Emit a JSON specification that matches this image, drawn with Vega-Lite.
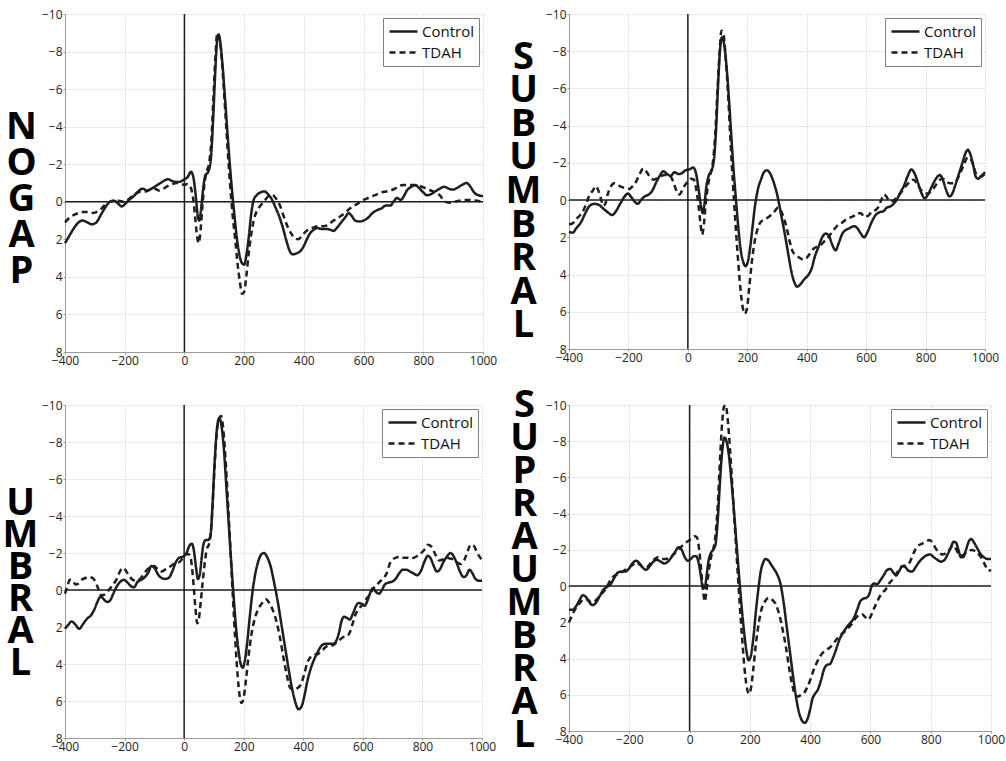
{
"$schema": "https://vega.github.io/schema/vega-lite/v6.json",
"background": "white",
"padding": {"left": 2, "top": 8, "right": 0, "bottom": 0},
"columns": 2,
"spacing": {"row": 20, "column": 8},
"resolve": {"legend": {"strokeDash": "independent"}},
"config": {
  "view": {"stroke": null},
  "font": "Open Sans",
  "axis": {"domainColor": "#9a9a9a", "domainWidth": 1, "grid": true, "gridColor": "#c4c4c4", "gridDash": [1, 2], "gridWidth": 1, "ticks": true, "tickSize": 2, "tickColor": "#9a9a9a", "labelFont": "Open Sans", "labelFontSize": 12, "labelColor": "#222", "labelPadding": 1, "labelFlush": false, "labelOverlap": false, "labelSeparation": 0, "titleFont": "Liberation Sans Narrow, Open Sans", "titleFontSize": 38, "titleFontWeight": "bold", "titleColor": "#000", "titleAngle": 0, "titleAlign": "center", "titleBaseline": "middle"},
  "legend": {"orient": "top-right", "offset": 4, "padding": 5, "strokeColor": "#808080", "fillColor": "white", "symbolType": "M-1,0L3,0", "symbolSize": 196, "symbolStrokeWidth": 2.4, "symbolStrokeColor": "#1e1e1e", "labelFont": "Open Sans", "labelFontSize": 15, "labelColor": "#111", "rowPadding": 4, "labelOffset": 17, "title": null},
  "line": {"strokeWidth": 2.5, "color": "#1e1e1e", "interpolate": "monotone"},
  "rule": {"color": "#1e1e1e", "strokeWidth": 1.5}
},
"datasets": {
"p1c": [{"t":-400,"v":2.2},{"t":-385,"v":1.8},{"t":-370,"v":1.4},{"t":-355,"v":1.1},{"t":-340,"v":1.0},{"t":-325,"v":1.1},{"t":-310,"v":1.2},{"t":-295,"v":1.1},{"t":-280,"v":0.7},{"t":-265,"v":0.3},{"t":-250,"v":0.0},{"t":-235,"v":-0.05},{"t":-222,"v":0.1},{"t":-210,"v":0.25},{"t":-198,"v":0.1},{"t":-185,"v":-0.1},{"t":-170,"v":-0.3},{"t":-155,"v":-0.55},{"t":-140,"v":-0.7},{"t":-125,"v":-0.6},{"t":-110,"v":-0.7},{"t":-95,"v":-0.85},{"t":-80,"v":-1.0},{"t":-65,"v":-1.15},{"t":-55,"v":-1.2},{"t":-40,"v":-1.1},{"t":-25,"v":-1.05},{"t":-10,"v":-1.1},{"t":0,"v":-1.2},{"t":10,"v":-1.3},{"t":22,"v":-1.6},{"t":30,"v":-1.3},{"t":38,"v":-0.3},{"t":45,"v":0.8},{"t":50,"v":1.0},{"t":55,"v":0.5},{"t":62,"v":-0.6},{"t":70,"v":-1.4},{"t":80,"v":-1.6},{"t":88,"v":-2.2},{"t":95,"v":-4.0},{"t":102,"v":-6.5},{"t":108,"v":-8.3},{"t":113,"v":-8.9},{"t":120,"v":-8.5},{"t":128,"v":-7.2},{"t":136,"v":-5.5},{"t":144,"v":-3.7},{"t":152,"v":-2.0},{"t":160,"v":-0.5},{"t":168,"v":0.8},{"t":176,"v":2.0},{"t":184,"v":2.8},{"t":192,"v":3.25},{"t":200,"v":3.35},{"t":208,"v":2.8},{"t":216,"v":1.8},{"t":224,"v":0.6},{"t":232,"v":-0.1},{"t":242,"v":-0.35},{"t":255,"v":-0.5},{"t":268,"v":-0.55},{"t":280,"v":-0.4},{"t":292,"v":-0.15},{"t":305,"v":0.3},{"t":318,"v":0.8},{"t":330,"v":1.4},{"t":342,"v":2.1},{"t":352,"v":2.6},{"t":362,"v":2.8},{"t":375,"v":2.75},{"t":390,"v":2.6},{"t":400,"v":2.35},{"t":410,"v":2.0},{"t":420,"v":1.7},{"t":432,"v":1.5},{"t":445,"v":1.4},{"t":460,"v":1.45},{"t":475,"v":1.45},{"t":490,"v":1.5},{"t":500,"v":1.55},{"t":510,"v":1.4},{"t":525,"v":1.1},{"t":540,"v":0.8},{"t":550,"v":0.6},{"t":560,"v":0.75},{"t":572,"v":1.0},{"t":588,"v":1.05},{"t":600,"v":1.0},{"t":615,"v":0.85},{"t":630,"v":0.6},{"t":645,"v":0.45},{"t":660,"v":0.35},{"t":675,"v":0.2},{"t":690,"v":0.2},{"t":700,"v":0.0},{"t":712,"v":-0.2},{"t":725,"v":-0.1},{"t":735,"v":-0.3},{"t":745,"v":-0.6},{"t":760,"v":-0.8},{"t":772,"v":-0.9},{"t":785,"v":-0.75},{"t":800,"v":-0.5},{"t":812,"v":-0.35},{"t":825,"v":-0.4},{"t":840,"v":-0.55},{"t":855,"v":-0.7},{"t":870,"v":-0.8},{"t":885,"v":-0.7},{"t":900,"v":-0.65},{"t":915,"v":-0.75},{"t":930,"v":-0.9},{"t":945,"v":-1.0},{"t":958,"v":-0.8},{"t":970,"v":-0.5},{"t":985,"v":-0.35},{"t":1000,"v":-0.3}],
"p1d": [{"t":-400,"v":1.1},{"t":-385,"v":0.85},{"t":-370,"v":0.7},{"t":-355,"v":0.6},{"t":-340,"v":0.55},{"t":-325,"v":0.55},{"t":-310,"v":0.6},{"t":-295,"v":0.55},{"t":-280,"v":0.4},{"t":-265,"v":0.15},{"t":-250,"v":0.0},{"t":-235,"v":-0.05},{"t":-220,"v":-0.05},{"t":-205,"v":0.0},{"t":-190,"v":-0.1},{"t":-175,"v":-0.3},{"t":-160,"v":-0.45},{"t":-145,"v":-0.55},{"t":-130,"v":-0.55},{"t":-115,"v":-0.65},{"t":-100,"v":-0.7},{"t":-85,"v":-0.6},{"t":-70,"v":-0.7},{"t":-55,"v":-0.85},{"t":-40,"v":-0.95},{"t":-25,"v":-1.0},{"t":-10,"v":-0.95},{"t":0,"v":-0.9},{"t":10,"v":-0.95},{"t":20,"v":-0.8},{"t":28,"v":-0.3},{"t":36,"v":0.8},{"t":42,"v":1.8},{"t":48,"v":2.2},{"t":54,"v":1.5},{"t":60,"v":0.3},{"t":66,"v":-0.8},{"t":74,"v":-1.6},{"t":82,"v":-2.0},{"t":90,"v":-3.2},{"t":97,"v":-5.5},{"t":104,"v":-7.8},{"t":110,"v":-9.0},{"t":117,"v":-8.8},{"t":124,"v":-7.8},{"t":132,"v":-6.0},{"t":140,"v":-4.0},{"t":148,"v":-2.0},{"t":155,"v":-0.5},{"t":162,"v":0.8},{"t":170,"v":2.0},{"t":178,"v":3.3},{"t":186,"v":4.3},{"t":193,"v":4.9},{"t":200,"v":4.8},{"t":207,"v":4.0},{"t":215,"v":2.8},{"t":223,"v":1.8},{"t":232,"v":1.0},{"t":242,"v":0.5},{"t":255,"v":0.2},{"t":268,"v":-0.05},{"t":282,"v":-0.3},{"t":295,"v":-0.35},{"t":308,"v":-0.15},{"t":320,"v":0.2},{"t":333,"v":0.8},{"t":345,"v":1.3},{"t":358,"v":1.7},{"t":370,"v":1.95},{"t":380,"v":2.0},{"t":392,"v":1.85},{"t":405,"v":1.6},{"t":420,"v":1.45},{"t":435,"v":1.35},{"t":450,"v":1.3},{"t":465,"v":1.3},{"t":480,"v":1.25},{"t":495,"v":1.05},{"t":510,"v":0.9},{"t":525,"v":0.75},{"t":540,"v":0.55},{"t":555,"v":0.35},{"t":570,"v":0.2},{"t":585,"v":0.05},{"t":600,"v":-0.1},{"t":615,"v":-0.2},{"t":630,"v":-0.3},{"t":645,"v":-0.4},{"t":660,"v":-0.5},{"t":675,"v":-0.55},{"t":690,"v":-0.6},{"t":705,"v":-0.7},{"t":720,"v":-0.85},{"t":735,"v":-0.9},{"t":750,"v":-0.9},{"t":765,"v":-0.9},{"t":780,"v":-0.85},{"t":795,"v":-0.8},{"t":810,"v":-0.7},{"t":825,"v":-0.6},{"t":840,"v":-0.5},{"t":855,"v":-0.35},{"t":865,"v":-0.15},{"t":875,"v":0.0},{"t":890,"v":0.05},{"t":905,"v":0.0},{"t":920,"v":-0.05},{"t":935,"v":-0.1},{"t":950,"v":-0.1},{"t":965,"v":-0.1},{"t":980,"v":-0.05},{"t":1000,"v":0.0}],
"p2c": [{"t":-400,"v":1.7},{"t":-388,"v":1.75},{"t":-375,"v":1.5},{"t":-360,"v":1.2},{"t":-345,"v":0.7},{"t":-330,"v":0.3},{"t":-315,"v":0.2},{"t":-300,"v":0.25},{"t":-285,"v":0.45},{"t":-270,"v":0.65},{"t":-255,"v":0.8},{"t":-242,"v":0.6},{"t":-228,"v":0.2},{"t":-215,"v":-0.15},{"t":-202,"v":-0.35},{"t":-190,"v":-0.15},{"t":-178,"v":0.1},{"t":-168,"v":0.2},{"t":-158,"v":0.0},{"t":-145,"v":-0.2},{"t":-132,"v":-0.3},{"t":-120,"v":-0.5},{"t":-108,"v":-0.9},{"t":-95,"v":-1.3},{"t":-82,"v":-1.55},{"t":-70,"v":-1.4},{"t":-58,"v":-1.3},{"t":-45,"v":-1.5},{"t":-32,"v":-1.4},{"t":-20,"v":-1.45},{"t":-8,"v":-1.6},{"t":5,"v":-1.65},{"t":18,"v":-1.75},{"t":28,"v":-1.4},{"t":36,"v":-0.6},{"t":44,"v":0.3},{"t":50,"v":0.7},{"t":56,"v":0.2},{"t":62,"v":-0.7},{"t":70,"v":-1.3},{"t":80,"v":-1.6},{"t":88,"v":-2.2},{"t":95,"v":-3.8},{"t":102,"v":-6.3},{"t":108,"v":-8.0},{"t":115,"v":-8.75},{"t":122,"v":-8.4},{"t":130,"v":-7.2},{"t":138,"v":-5.5},{"t":146,"v":-3.5},{"t":154,"v":-1.6},{"t":162,"v":0.0},{"t":170,"v":1.5},{"t":178,"v":2.7},{"t":186,"v":3.3},{"t":194,"v":3.55},{"t":202,"v":3.3},{"t":210,"v":2.5},{"t":218,"v":1.4},{"t":226,"v":0.3},{"t":236,"v":-0.6},{"t":246,"v":-1.1},{"t":256,"v":-1.5},{"t":266,"v":-1.6},{"t":278,"v":-1.4},{"t":290,"v":-0.9},{"t":302,"v":-0.2},{"t":314,"v":0.8},{"t":326,"v":1.8},{"t":338,"v":2.9},{"t":348,"v":3.8},{"t":358,"v":4.4},{"t":368,"v":4.65},{"t":380,"v":4.5},{"t":392,"v":4.25},{"t":404,"v":4.05},{"t":416,"v":3.7},{"t":428,"v":3.0},{"t":440,"v":2.5},{"t":452,"v":2.0},{"t":464,"v":1.8},{"t":474,"v":1.9},{"t":486,"v":2.4},{"t":497,"v":2.7},{"t":508,"v":2.3},{"t":520,"v":1.8},{"t":532,"v":1.6},{"t":545,"v":1.5},{"t":558,"v":1.4},{"t":570,"v":1.5},{"t":582,"v":1.8},{"t":593,"v":2.0},{"t":605,"v":1.7},{"t":618,"v":1.2},{"t":632,"v":0.8},{"t":645,"v":0.65},{"t":658,"v":0.6},{"t":670,"v":0.4},{"t":680,"v":0.35},{"t":692,"v":0.2},{"t":702,"v":0.0},{"t":715,"v":-0.4},{"t":728,"v":-0.8},{"t":740,"v":-1.3},{"t":752,"v":-1.65},{"t":764,"v":-1.4},{"t":775,"v":-0.9},{"t":787,"v":-0.35},{"t":797,"v":-0.1},{"t":808,"v":-0.3},{"t":820,"v":-0.7},{"t":835,"v":-1.15},{"t":848,"v":-1.35},{"t":858,"v":-1.1},{"t":868,"v":-0.6},{"t":880,"v":-0.2},{"t":890,"v":-0.35},{"t":900,"v":-0.8},{"t":912,"v":-1.4},{"t":924,"v":-2.0},{"t":935,"v":-2.55},{"t":942,"v":-2.7},{"t":950,"v":-2.5},{"t":960,"v":-1.9},{"t":968,"v":-1.3},{"t":976,"v":-1.15},{"t":988,"v":-1.3},{"t":1000,"v":-1.5}],
"p2d": [{"t":-400,"v":1.3},{"t":-388,"v":1.25},{"t":-375,"v":1.0},{"t":-362,"v":0.8},{"t":-350,"v":0.5},{"t":-340,"v":0.1},{"t":-330,"v":-0.3},{"t":-320,"v":-0.5},{"t":-310,"v":-0.75},{"t":-302,"v":-0.55},{"t":-293,"v":-0.1},{"t":-285,"v":0.3},{"t":-278,"v":0.2},{"t":-270,"v":-0.3},{"t":-260,"v":-0.7},{"t":-248,"v":-0.9},{"t":-235,"v":-0.8},{"t":-222,"v":-0.7},{"t":-210,"v":-0.65},{"t":-198,"v":-0.6},{"t":-186,"v":-0.75},{"t":-174,"v":-1.0},{"t":-162,"v":-1.4},{"t":-150,"v":-1.7},{"t":-138,"v":-1.5},{"t":-126,"v":-1.2},{"t":-114,"v":-1.1},{"t":-102,"v":-1.2},{"t":-90,"v":-1.3},{"t":-78,"v":-1.35},{"t":-66,"v":-1.35},{"t":-55,"v":-1.2},{"t":-45,"v":-0.8},{"t":-36,"v":-0.4},{"t":-28,"v":-0.3},{"t":-20,"v":-0.5},{"t":-10,"v":-0.8},{"t":0,"v":-1.0},{"t":10,"v":-1.15},{"t":20,"v":-1.1},{"t":28,"v":-0.6},{"t":36,"v":0.3},{"t":42,"v":1.2},{"t":48,"v":1.85},{"t":54,"v":1.3},{"t":60,"v":0.2},{"t":68,"v":-0.8},{"t":76,"v":-1.4},{"t":84,"v":-2.0},{"t":92,"v":-3.5},{"t":100,"v":-6.0},{"t":107,"v":-8.0},{"t":113,"v":-9.1},{"t":120,"v":-8.9},{"t":128,"v":-7.5},{"t":136,"v":-5.5},{"t":144,"v":-3.0},{"t":152,"v":-0.8},{"t":160,"v":1.2},{"t":168,"v":3.0},{"t":176,"v":4.6},{"t":184,"v":5.7},{"t":191,"v":6.1},{"t":198,"v":5.9},{"t":206,"v":4.8},{"t":214,"v":3.5},{"t":222,"v":2.5},{"t":232,"v":1.7},{"t":244,"v":1.2},{"t":256,"v":1.05},{"t":268,"v":0.95},{"t":280,"v":0.8},{"t":292,"v":0.6},{"t":304,"v":0.4},{"t":314,"v":0.6},{"t":324,"v":1.0},{"t":334,"v":1.6},{"t":344,"v":2.3},{"t":354,"v":2.8},{"t":364,"v":2.95},{"t":376,"v":3.1},{"t":388,"v":3.2},{"t":400,"v":3.1},{"t":412,"v":2.85},{"t":424,"v":2.6},{"t":436,"v":2.5},{"t":448,"v":2.4},{"t":460,"v":2.2},{"t":472,"v":2.0},{"t":484,"v":1.75},{"t":496,"v":1.5},{"t":508,"v":1.3},{"t":520,"v":1.2},{"t":532,"v":1.05},{"t":545,"v":0.95},{"t":558,"v":0.85},{"t":570,"v":0.7},{"t":582,"v":0.7},{"t":594,"v":0.9},{"t":606,"v":0.85},{"t":618,"v":0.65},{"t":630,"v":0.55},{"t":642,"v":0.35},{"t":652,"v":-0.05},{"t":660,"v":-0.3},{"t":668,"v":-0.2},{"t":678,"v":0.05},{"t":690,"v":0.05},{"t":700,"v":-0.1},{"t":712,"v":-0.3},{"t":724,"v":-0.55},{"t":736,"v":-0.8},{"t":748,"v":-1.0},{"t":760,"v":-1.1},{"t":772,"v":-0.85},{"t":784,"v":-0.55},{"t":796,"v":-0.4},{"t":808,"v":-0.35},{"t":820,"v":-0.5},{"t":832,"v":-0.75},{"t":845,"v":-1.05},{"t":858,"v":-1.15},{"t":870,"v":-1.0},{"t":882,"v":-0.9},{"t":894,"v":-0.9},{"t":906,"v":-1.1},{"t":918,"v":-1.5},{"t":930,"v":-1.95},{"t":942,"v":-2.3},{"t":952,"v":-2.2},{"t":962,"v":-1.8},{"t":972,"v":-1.35},{"t":984,"v":-1.25},{"t":1000,"v":-1.4}],
"p3c": [{"t":-400,"v":2.1},{"t":-390,"v":1.9},{"t":-378,"v":1.7},{"t":-366,"v":1.85},{"t":-352,"v":2.1},{"t":-340,"v":1.85},{"t":-326,"v":1.55},{"t":-312,"v":1.35},{"t":-300,"v":1.0},{"t":-290,"v":0.6},{"t":-280,"v":0.35},{"t":-270,"v":0.5},{"t":-258,"v":0.65},{"t":-248,"v":0.55},{"t":-238,"v":0.2},{"t":-226,"v":-0.2},{"t":-214,"v":-0.45},{"t":-202,"v":-0.55},{"t":-190,"v":-0.4},{"t":-178,"v":-0.2},{"t":-168,"v":-0.15},{"t":-156,"v":-0.45},{"t":-144,"v":-0.55},{"t":-132,"v":-0.7},{"t":-120,"v":-0.95},{"t":-110,"v":-1.3},{"t":-100,"v":-1.2},{"t":-88,"v":-0.85},{"t":-76,"v":-0.65},{"t":-64,"v":-0.6},{"t":-52,"v":-0.65},{"t":-40,"v":-1.0},{"t":-28,"v":-1.5},{"t":-16,"v":-1.75},{"t":-4,"v":-1.8},{"t":8,"v":-2.0},{"t":18,"v":-2.4},{"t":26,"v":-2.5},{"t":34,"v":-2.0},{"t":40,"v":-1.2},{"t":46,"v":-0.6},{"t":52,"v":-0.8},{"t":58,"v":-1.6},{"t":64,"v":-2.4},{"t":72,"v":-2.7},{"t":80,"v":-2.7},{"t":88,"v":-2.9},{"t":95,"v":-4.5},{"t":102,"v":-6.8},{"t":110,"v":-8.7},{"t":118,"v":-9.3},{"t":126,"v":-8.8},{"t":134,"v":-7.5},{"t":142,"v":-5.5},{"t":150,"v":-3.5},{"t":158,"v":-1.5},{"t":166,"v":0.3},{"t":174,"v":2.0},{"t":182,"v":3.2},{"t":190,"v":4.0},{"t":197,"v":4.2},{"t":204,"v":3.8},{"t":212,"v":2.8},{"t":220,"v":1.5},{"t":228,"v":0.3},{"t":238,"v":-0.8},{"t":248,"v":-1.5},{"t":258,"v":-1.9},{"t":268,"v":-2.0},{"t":278,"v":-1.8},{"t":290,"v":-1.3},{"t":302,"v":-0.4},{"t":314,"v":0.6},{"t":326,"v":1.8},{"t":338,"v":3.0},{"t":350,"v":4.2},{"t":362,"v":5.3},{"t":374,"v":6.1},{"t":384,"v":6.45},{"t":394,"v":6.3},{"t":404,"v":5.7},{"t":414,"v":4.9},{"t":426,"v":4.2},{"t":438,"v":3.7},{"t":450,"v":3.3},{"t":462,"v":3.0},{"t":475,"v":2.9},{"t":490,"v":2.9},{"t":502,"v":2.9},{"t":512,"v":2.7},{"t":520,"v":2.3},{"t":528,"v":1.7},{"t":536,"v":1.45},{"t":546,"v":1.5},{"t":556,"v":1.6},{"t":566,"v":1.3},{"t":576,"v":0.9},{"t":586,"v":0.7},{"t":596,"v":0.75},{"t":606,"v":0.85},{"t":616,"v":0.55},{"t":626,"v":0.1},{"t":634,"v":-0.1},{"t":644,"v":0.1},{"t":654,"v":0.2},{"t":664,"v":0.0},{"t":674,"v":-0.3},{"t":686,"v":-0.4},{"t":698,"v":-0.45},{"t":710,"v":-0.6},{"t":722,"v":-0.9},{"t":734,"v":-1.1},{"t":746,"v":-1.1},{"t":758,"v":-1.0},{"t":770,"v":-0.9},{"t":782,"v":-0.8},{"t":794,"v":-1.0},{"t":806,"v":-1.5},{"t":818,"v":-1.85},{"t":828,"v":-1.7},{"t":838,"v":-1.3},{"t":848,"v":-1.0},{"t":858,"v":-1.1},{"t":870,"v":-1.5},{"t":882,"v":-1.8},{"t":894,"v":-2.0},{"t":904,"v":-1.85},{"t":914,"v":-1.5},{"t":926,"v":-1.0},{"t":938,"v":-0.7},{"t":948,"v":-0.8},{"t":958,"v":-1.1},{"t":968,"v":-0.9},{"t":978,"v":-0.6},{"t":990,"v":-0.5},{"t":1000,"v":-0.5}],
"p3d": [{"t":-400,"v":0.2},{"t":-392,"v":-0.2},{"t":-384,"v":-0.55},{"t":-374,"v":-0.5},{"t":-364,"v":-0.3},{"t":-354,"v":-0.35},{"t":-344,"v":-0.55},{"t":-332,"v":-0.65},{"t":-320,"v":-0.7},{"t":-308,"v":-0.65},{"t":-298,"v":-0.45},{"t":-288,"v":-0.05},{"t":-278,"v":0.3},{"t":-268,"v":0.25},{"t":-258,"v":0.1},{"t":-248,"v":-0.1},{"t":-238,"v":-0.3},{"t":-226,"v":-0.6},{"t":-214,"v":-1.05},{"t":-204,"v":-1.2},{"t":-194,"v":-1.0},{"t":-184,"v":-0.75},{"t":-172,"v":-0.55},{"t":-160,"v":-0.5},{"t":-148,"v":-0.6},{"t":-136,"v":-0.85},{"t":-124,"v":-1.1},{"t":-112,"v":-1.25},{"t":-100,"v":-1.3},{"t":-88,"v":-1.1},{"t":-76,"v":-1.0},{"t":-64,"v":-1.1},{"t":-52,"v":-1.2},{"t":-40,"v":-1.35},{"t":-28,"v":-1.45},{"t":-16,"v":-1.5},{"t":-4,"v":-1.75},{"t":8,"v":-1.95},{"t":18,"v":-1.9},{"t":26,"v":-1.3},{"t":32,"v":-0.2},{"t":38,"v":1.0},{"t":44,"v":1.8},{"t":50,"v":1.5},{"t":56,"v":0.6},{"t":62,"v":-0.4},{"t":68,"v":-1.3},{"t":76,"v":-2.2},{"t":84,"v":-2.5},{"t":92,"v":-3.6},{"t":100,"v":-6.0},{"t":108,"v":-8.2},{"t":116,"v":-9.2},{"t":124,"v":-9.4},{"t":132,"v":-8.6},{"t":140,"v":-6.8},{"t":148,"v":-4.5},{"t":156,"v":-2.0},{"t":164,"v":0.5},{"t":172,"v":2.8},{"t":180,"v":4.7},{"t":187,"v":5.8},{"t":193,"v":6.1},{"t":200,"v":5.8},{"t":208,"v":4.8},{"t":216,"v":3.6},{"t":226,"v":2.4},{"t":238,"v":1.5},{"t":250,"v":1.0},{"t":262,"v":0.7},{"t":274,"v":0.5},{"t":286,"v":0.7},{"t":298,"v":1.1},{"t":310,"v":1.7},{"t":322,"v":2.6},{"t":334,"v":3.7},{"t":346,"v":4.7},{"t":356,"v":5.3},{"t":368,"v":5.35},{"t":380,"v":5.3},{"t":392,"v":5.1},{"t":404,"v":4.5},{"t":414,"v":3.9},{"t":426,"v":3.6},{"t":438,"v":3.5},{"t":450,"v":3.45},{"t":462,"v":3.3},{"t":474,"v":3.1},{"t":486,"v":3.0},{"t":498,"v":3.0},{"t":510,"v":2.85},{"t":522,"v":2.7},{"t":534,"v":2.55},{"t":546,"v":2.5},{"t":556,"v":2.3},{"t":566,"v":1.8},{"t":576,"v":1.3},{"t":586,"v":1.0},{"t":596,"v":0.85},{"t":606,"v":0.6},{"t":616,"v":0.4},{"t":626,"v":0.2},{"t":636,"v":-0.1},{"t":648,"v":-0.3},{"t":660,"v":-0.5},{"t":670,"v":-0.65},{"t":680,"v":-0.9},{"t":690,"v":-1.4},{"t":700,"v":-1.65},{"t":712,"v":-1.75},{"t":724,"v":-1.8},{"t":736,"v":-1.75},{"t":748,"v":-1.75},{"t":760,"v":-1.7},{"t":772,"v":-1.75},{"t":784,"v":-1.85},{"t":796,"v":-2.0},{"t":808,"v":-2.2},{"t":820,"v":-2.45},{"t":832,"v":-2.3},{"t":844,"v":-1.9},{"t":856,"v":-1.6},{"t":868,"v":-1.65},{"t":880,"v":-1.75},{"t":892,"v":-1.7},{"t":904,"v":-1.65},{"t":916,"v":-1.5},{"t":928,"v":-1.4},{"t":940,"v":-1.6},{"t":952,"v":-2.1},{"t":962,"v":-2.45},{"t":972,"v":-2.4},{"t":984,"v":-2.0},{"t":994,"v":-1.75},{"t":1000,"v":-1.6}],
"p4c": [{"t":-400,"v":1.3},{"t":-388,"v":1.3},{"t":-378,"v":1.15},{"t":-366,"v":0.8},{"t":-354,"v":0.5},{"t":-344,"v":0.6},{"t":-334,"v":0.85},{"t":-322,"v":1.05},{"t":-310,"v":0.9},{"t":-298,"v":0.55},{"t":-286,"v":0.2},{"t":-274,"v":0.05},{"t":-262,"v":-0.1},{"t":-250,"v":-0.45},{"t":-238,"v":-0.75},{"t":-226,"v":-0.8},{"t":-214,"v":-0.8},{"t":-202,"v":-0.95},{"t":-190,"v":-1.25},{"t":-178,"v":-1.4},{"t":-166,"v":-1.25},{"t":-154,"v":-1.0},{"t":-144,"v":-0.9},{"t":-132,"v":-1.1},{"t":-120,"v":-1.35},{"t":-108,"v":-1.45},{"t":-96,"v":-1.35},{"t":-84,"v":-1.25},{"t":-72,"v":-1.35},{"t":-60,"v":-1.6},{"t":-48,"v":-1.9},{"t":-36,"v":-2.15},{"t":-26,"v":-2.0},{"t":-16,"v":-1.6},{"t":-6,"v":-1.4},{"t":4,"v":-1.5},{"t":14,"v":-1.65},{"t":22,"v":-1.65},{"t":30,"v":-1.3},{"t":38,"v":-0.5},{"t":44,"v":0.1},{"t":50,"v":0.1},{"t":56,"v":-0.5},{"t":62,"v":-1.3},{"t":70,"v":-1.8},{"t":78,"v":-2.0},{"t":86,"v":-2.3},{"t":94,"v":-3.8},{"t":101,"v":-5.8},{"t":108,"v":-7.4},{"t":116,"v":-8.2},{"t":124,"v":-7.9},{"t":132,"v":-7.0},{"t":140,"v":-5.6},{"t":148,"v":-4.0},{"t":156,"v":-2.3},{"t":164,"v":-0.6},{"t":172,"v":1.0},{"t":180,"v":2.4},{"t":188,"v":3.5},{"t":196,"v":4.1},{"t":204,"v":3.8},{"t":212,"v":2.8},{"t":220,"v":1.4},{"t":228,"v":0.2},{"t":236,"v":-0.8},{"t":244,"v":-1.3},{"t":252,"v":-1.5},{"t":262,"v":-1.4},{"t":272,"v":-1.15},{"t":282,"v":-0.9},{"t":292,"v":-0.6},{"t":302,"v":-0.1},{"t":312,"v":0.9},{"t":322,"v":2.2},{"t":332,"v":3.5},{"t":342,"v":4.8},{"t":352,"v":6.0},{"t":362,"v":6.9},{"t":372,"v":7.4},{"t":382,"v":7.55},{"t":392,"v":7.3},{"t":400,"v":6.8},{"t":408,"v":6.2},{"t":416,"v":5.95},{"t":426,"v":5.7},{"t":436,"v":5.2},{"t":446,"v":4.6},{"t":456,"v":4.35},{"t":466,"v":4.3},{"t":476,"v":3.95},{"t":486,"v":3.5},{"t":496,"v":3.0},{"t":508,"v":2.6},{"t":520,"v":2.3},{"t":532,"v":2.05},{"t":544,"v":1.8},{"t":556,"v":1.3},{"t":566,"v":0.85},{"t":576,"v":0.7},{"t":586,"v":0.65},{"t":596,"v":0.45},{"t":604,"v":0.0},{"t":612,"v":-0.15},{"t":622,"v":-0.1},{"t":632,"v":-0.3},{"t":644,"v":-0.6},{"t":656,"v":-0.9},{"t":666,"v":-0.95},{"t":676,"v":-0.75},{"t":686,"v":-0.6},{"t":696,"v":-0.85},{"t":706,"v":-1.1},{"t":716,"v":-1.05},{"t":726,"v":-0.85},{"t":738,"v":-0.8},{"t":750,"v":-1.05},{"t":762,"v":-1.35},{"t":774,"v":-1.55},{"t":786,"v":-1.7},{"t":798,"v":-1.75},{"t":810,"v":-1.6},{"t":822,"v":-1.45},{"t":834,"v":-1.35},{"t":846,"v":-1.45},{"t":856,"v":-1.75},{"t":866,"v":-2.1},{"t":876,"v":-2.45},{"t":884,"v":-2.4},{"t":892,"v":-2.0},{"t":900,"v":-1.6},{"t":908,"v":-1.6},{"t":916,"v":-1.95},{"t":926,"v":-2.45},{"t":934,"v":-2.6},{"t":944,"v":-2.4},{"t":954,"v":-2.1},{"t":964,"v":-1.8},{"t":976,"v":-1.6},{"t":988,"v":-1.5},{"t":1000,"v":-1.5}],
"p4d": [{"t":-400,"v":2.0},{"t":-392,"v":1.7},{"t":-382,"v":1.35},{"t":-372,"v":1.1},{"t":-360,"v":0.85},{"t":-348,"v":0.7},{"t":-338,"v":0.75},{"t":-326,"v":0.9},{"t":-316,"v":0.85},{"t":-306,"v":0.7},{"t":-294,"v":0.45},{"t":-282,"v":0.25},{"t":-270,"v":-0.1},{"t":-258,"v":-0.45},{"t":-246,"v":-0.6},{"t":-232,"v":-0.7},{"t":-218,"v":-0.85},{"t":-204,"v":-1.0},{"t":-190,"v":-1.15},{"t":-178,"v":-1.3},{"t":-166,"v":-1.2},{"t":-154,"v":-1.05},{"t":-142,"v":-1.05},{"t":-128,"v":-1.3},{"t":-116,"v":-1.5},{"t":-104,"v":-1.6},{"t":-92,"v":-1.5},{"t":-80,"v":-1.5},{"t":-68,"v":-1.55},{"t":-56,"v":-1.7},{"t":-44,"v":-1.9},{"t":-32,"v":-2.1},{"t":-20,"v":-2.3},{"t":-8,"v":-2.45},{"t":4,"v":-2.6},{"t":16,"v":-2.75},{"t":24,"v":-2.7},{"t":32,"v":-2.0},{"t":40,"v":-0.6},{"t":46,"v":0.4},{"t":50,"v":0.85},{"t":56,"v":0.3},{"t":62,"v":-0.6},{"t":70,"v":-1.5},{"t":78,"v":-2.0},{"t":86,"v":-2.8},{"t":94,"v":-4.6},{"t":101,"v":-7.0},{"t":108,"v":-9.0},{"t":114,"v":-9.9},{"t":120,"v":-10.0},{"t":126,"v":-9.3},{"t":134,"v":-7.6},{"t":142,"v":-5.5},{"t":150,"v":-3.3},{"t":158,"v":-1.2},{"t":166,"v":0.9},{"t":174,"v":2.8},{"t":182,"v":4.5},{"t":190,"v":5.6},{"t":197,"v":5.95},{"t":204,"v":5.6},{"t":212,"v":4.5},{"t":220,"v":3.2},{"t":230,"v":2.0},{"t":240,"v":1.2},{"t":250,"v":0.85},{"t":262,"v":0.65},{"t":274,"v":0.75},{"t":286,"v":1.0},{"t":298,"v":1.6},{"t":310,"v":2.5},{"t":320,"v":3.4},{"t":330,"v":4.5},{"t":340,"v":5.4},{"t":350,"v":6.0},{"t":360,"v":6.1},{"t":370,"v":6.0},{"t":380,"v":5.9},{"t":390,"v":5.6},{"t":400,"v":5.2},{"t":410,"v":4.7},{"t":420,"v":4.3},{"t":432,"v":3.9},{"t":444,"v":3.65},{"t":456,"v":3.5},{"t":468,"v":3.35},{"t":480,"v":3.1},{"t":492,"v":2.85},{"t":504,"v":2.65},{"t":516,"v":2.5},{"t":528,"v":2.3},{"t":540,"v":2.05},{"t":552,"v":1.75},{"t":562,"v":1.6},{"t":572,"v":1.55},{"t":582,"v":1.7},{"t":592,"v":1.85},{"t":600,"v":1.7},{"t":610,"v":1.3},{"t":620,"v":0.95},{"t":630,"v":0.6},{"t":640,"v":0.35},{"t":650,"v":0.2},{"t":660,"v":-0.1},{"t":670,"v":-0.3},{"t":682,"v":-0.55},{"t":694,"v":-0.9},{"t":706,"v":-1.1},{"t":718,"v":-1.15},{"t":730,"v":-1.3},{"t":740,"v":-1.7},{"t":750,"v":-2.05},{"t":760,"v":-2.25},{"t":772,"v":-2.35},{"t":784,"v":-2.45},{"t":796,"v":-2.55},{"t":806,"v":-2.4},{"t":816,"v":-2.1},{"t":828,"v":-1.85},{"t":840,"v":-1.75},{"t":852,"v":-1.85},{"t":864,"v":-2.05},{"t":874,"v":-2.25},{"t":884,"v":-2.05},{"t":894,"v":-1.75},{"t":904,"v":-1.7},{"t":914,"v":-1.8},{"t":926,"v":-1.95},{"t":938,"v":-2.0},{"t":950,"v":-1.9},{"t":962,"v":-1.7},{"t":972,"v":-1.45},{"t":982,"v":-1.1},{"t":992,"v":-0.85},{"t":1000,"v":-0.9}]
},
"concat": [
{"width": 418, "height": 338,
 "encoding": {
    "x": {"type": "quantitative", "scale": {"domain": [-400, 1000], "nice": false, "zero": false}, "axis": {"values": [-400,-200,0,200,400,600,800,1000], "format": "d", "labelOverlap": false, "title": null}},
    "y": {"type": "quantitative", "scale": {"domain": [-10, 8], "reverse": true, "nice": false, "zero": false}, "axis": {"values": [-10,-8,-6,-4,-2,0,2,4,6,8], "format": "d", "labelOverlap": false, "title": ["N","O","G","A","P"], "titleLineHeight": 36, "titleX": -44, "titleY": 113}}},
 "layer": [
  {"data": {"name": "p1c"}, "mark": "line", "encoding": {"x": {"field": "t"}, "y": {"field": "v"}, "strokeDash": {"datum": "Control", "type": "nominal", "scale": {"domain": ["Control","TDAH"], "range": [[1,0],[6,4]]}}}},
  {"data": {"name": "p1d"}, "mark": "line", "encoding": {"x": {"field": "t"}, "y": {"field": "v"}, "strokeDash": {"datum": "TDAH", "type": "nominal"}}},
  {"data": {"values": [{}]}, "mark": "rule", "encoding": {"x": {"datum": 0}, "y": null}},
  {"data": {"values": [{}]}, "mark": "rule", "encoding": {"y": {"datum": 0}, "x": null}}
 ]},
{"width": 416, "height": 335,
 "encoding": {
    "x": {"type": "quantitative", "scale": {"domain": [-400, 1000], "nice": false, "zero": false}, "axis": {"values": [-400,-200,0,200,400,600,800,1000], "format": "d", "labelOverlap": false, "title": null}},
    "y": {"type": "quantitative", "scale": {"domain": [-10, 8], "reverse": true, "nice": false, "zero": false}, "axis": {"values": [-10,-8,-6,-4,-2,0,2,4,6,8], "format": "d", "labelOverlap": false, "title": ["S","U","B","U","M","B","R","A","L"], "titleLineHeight": 33.6, "titleX": -46, "titleY": 43}}},
 "layer": [
  {"data": {"name": "p2c"}, "mark": "line", "encoding": {"x": {"field": "t"}, "y": {"field": "v"}, "strokeDash": {"datum": "Control", "type": "nominal", "scale": {"domain": ["Control","TDAH"], "range": [[1,0],[6,4]]}}}},
  {"data": {"name": "p2d"}, "mark": "line", "encoding": {"x": {"field": "t"}, "y": {"field": "v"}, "strokeDash": {"datum": "TDAH", "type": "nominal"}}},
  {"data": {"values": [{}]}, "mark": "rule", "encoding": {"x": {"datum": 0}, "y": null}},
  {"data": {"values": [{}]}, "mark": "rule", "encoding": {"y": {"datum": 0}, "x": null}}
 ]},
{"width": 417, "height": 333,
 "encoding": {
    "x": {"type": "quantitative", "scale": {"domain": [-400, 1000], "nice": false, "zero": false}, "axis": {"values": [-400,-200,0,200,400,600,800,1000], "format": "d", "labelOverlap": false, "title": null}},
    "y": {"type": "quantitative", "scale": {"domain": [-10, 8], "reverse": true, "nice": false, "zero": false}, "axis": {"values": [-10,-8,-6,-4,-2,0,2,4,6,8], "format": "d", "labelOverlap": false, "title": ["U","M","B","R","A","L"], "titleLineHeight": 32, "titleX": -45, "titleY": 98}}},
 "layer": [
  {"data": {"name": "p3c"}, "mark": "line", "encoding": {"x": {"field": "t"}, "y": {"field": "v"}, "strokeDash": {"datum": "Control", "type": "nominal", "scale": {"domain": ["Control","TDAH"], "range": [[1,0],[6,4]]}}}},
  {"data": {"name": "p3d"}, "mark": "line", "encoding": {"x": {"field": "t"}, "y": {"field": "v"}, "strokeDash": {"datum": "TDAH", "type": "nominal"}}},
  {"data": {"values": [{}]}, "mark": "rule", "encoding": {"x": {"datum": 0}, "y": null}},
  {"data": {"values": [{}]}, "mark": "rule", "encoding": {"y": {"datum": 0}, "x": null}}
 ]},
{"width": 422, "height": 326,
 "encoding": {
    "x": {"type": "quantitative", "scale": {"domain": [-400, 1000], "nice": false, "zero": false}, "axis": {"values": [-400,-200,0,200,400,600,800,1000], "format": "d", "labelOverlap": false, "title": null}},
    "y": {"type": "quantitative", "scale": {"domain": [-10, 8], "reverse": true, "nice": false, "zero": false}, "axis": {"values": [-10,-8,-6,-4,-2,0,2,4,6,8], "format": "d", "labelOverlap": false, "title": ["S","U","P","R","A","U","M","B","R","A","L"], "titleLineHeight": 33, "titleX": -45, "titleY": 0}}},
 "layer": [
  {"data": {"name": "p4c"}, "mark": "line", "encoding": {"x": {"field": "t"}, "y": {"field": "v"}, "strokeDash": {"datum": "Control", "type": "nominal", "scale": {"domain": ["Control","TDAH"], "range": [[1,0],[6,4]]}}}},
  {"data": {"name": "p4d"}, "mark": "line", "encoding": {"x": {"field": "t"}, "y": {"field": "v"}, "strokeDash": {"datum": "TDAH", "type": "nominal"}}},
  {"data": {"values": [{}]}, "mark": "rule", "encoding": {"x": {"datum": 0}, "y": null}},
  {"data": {"values": [{}]}, "mark": "rule", "encoding": {"y": {"datum": 0}, "x": null}}
 ]}
]
}
